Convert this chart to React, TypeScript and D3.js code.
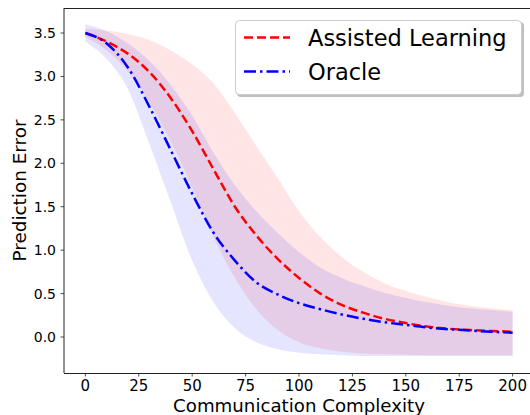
import { useEffect, useRef } from 'react'
import * as d3 from 'd3'

const W = 530
const H = 415
const MARGIN = { top: 8, right: -4, bottom: 42, left: 64 }

const steps = [0, 10, 20, 30, 40, 50, 60, 70, 80, 90, 100, 110, 120, 130, 140, 150, 160, 170, 180, 190, 200]

const assistedMean = [3.5, 3.4, 3.26, 3.05, 2.75, 2.37, 1.93, 1.5, 1.17, 0.9, 0.68, 0.5, 0.37, 0.28, 0.21, 0.16, 0.12, 0.095, 0.08, 0.07, 0.06]
const assistedUpper = [3.55, 3.53, 3.49, 3.42, 3.3, 3.14, 2.92, 2.58, 2.2, 1.83, 1.45, 1.15, 0.92, 0.75, 0.62, 0.53, 0.46, 0.4, 0.36, 0.33, 0.31]
const assistedLower = [3.45, 3.3, 3.05, 2.7, 2.25, 1.72, 1.15, 0.68, 0.32, 0.08, -0.06, -0.13, -0.17, -0.19, -0.2, -0.205, -0.21, -0.21, -0.21, -0.21, -0.21]

const oracleMean = [3.5, 3.38, 3.1, 2.65, 2.15, 1.65, 1.2, 0.88, 0.63, 0.49, 0.39, 0.32, 0.26, 0.21, 0.17, 0.14, 0.11, 0.09, 0.075, 0.06, 0.05]
const oracleUpper = [3.6, 3.52, 3.38, 3.18, 2.9, 2.55, 2.12, 1.75, 1.45, 1.2, 0.98, 0.8, 0.68, 0.59, 0.51, 0.45, 0.4, 0.36, 0.33, 0.31, 0.29]
const oracleLower = [3.4, 3.2, 2.85, 2.22, 1.55, 0.88, 0.4, 0.1, -0.06, -0.14, -0.18, -0.2, -0.21, -0.22, -0.22, -0.22, -0.22, -0.22, -0.22, -0.22, -0.22]

const xTicks = [0, 25, 50, 75, 100, 125, 150, 175, 200]
const yTicks = [0, 0.5, 1, 1.5, 2, 2.5, 3, 3.5]

const seriesNames = ['Assisted Learning', 'Oracle']

const FONT = 'DejaVu Sans, sans-serif'

export default function App() {
  const svgRef = useRef<SVGSVGElement>(null)

  useEffect(() => {
    if (!svgRef.current) return
    const svg = d3.select(svgRef.current)
    svg.selectAll('*').remove()

    const x0 = MARGIN.left
    const x1 = W - MARGIN.right
    const y0 = MARGIN.top
    const y1 = H - MARGIN.bottom

    const x = d3.scaleLinear().domain([-10, 210]).range([x0, x1])
    const y = d3.scaleLinear().domain([-0.4145, 3.788]).range([y1, y0])

    svg.append('defs').append('clipPath').attr('id', 'plot-clip')
      .append('rect').attr('x', x0).attr('y', y0).attr('width', x1 - x0).attr('height', y1 - y0)

    const plot = svg.append('g').attr('clip-path', 'url(#plot-clip)')

    const mkArea = (lo: number[], hi: number[]) =>
      d3.area<number>().x(d => x(d)).y0((_, i) => y(lo[i])).y1((_, i) => y(hi[i])).curve(d3.curveMonotoneX)
    const mkLine = (vals: number[]) =>
      d3.line<number>().x(d => x(d)).y((_, i) => y(vals[i])).curve(d3.curveMonotoneX)

    // bands
    plot.append('path').datum(steps).attr('fill', '#ff0000').attr('fill-opacity', 0.1)
      .attr('d', mkArea(assistedLower, assistedUpper))
    plot.append('path').datum(steps).attr('fill', '#0000ff').attr('fill-opacity', 0.1)
      .attr('d', mkArea(oracleLower, oracleUpper))

    // mean lines
    plot.append('path').datum(steps).attr('fill', 'none').attr('stroke', '#ff0000').attr('stroke-width', 2.5)
      .attr('stroke-dasharray', '9,4').attr('d', mkLine(assistedMean))
    plot.append('path').datum(steps).attr('fill', 'none').attr('stroke', '#0000ff').attr('stroke-width', 2.5)
      .attr('stroke-dasharray', '12,4,2.5,4').attr('d', mkLine(oracleMean))

    // spines
    const spines = svg.append('g').attr('stroke', '#222').attr('stroke-width', 1)
    spines.append('line').attr('x1', x0).attr('x2', x0).attr('y1', y0).attr('y2', y1)
    spines.append('line').attr('x1', x0).attr('x2', x1).attr('y1', y1 + 0.5).attr('y2', y1 + 0.5)
    spines.append('line').attr('x1', x0).attr('x2', x1).attr('y1', y0 + 0.5).attr('y2', y0 + 0.5)
    spines.append('line').attr('x1', x1).attr('x2', x1).attr('y1', y0).attr('y2', y1)

    // x axis
    const xa = svg.append('g')
    xTicks.forEach(t => {
      xa.append('line').attr('x1', x(t)).attr('x2', x(t)).attr('y1', y1).attr('y2', y1 + 3.5)
        .attr('stroke', '#222').attr('stroke-width', 0.8)
      xa.append('text').attr('x', x(t)).attr('y', y1 + 17.5).attr('text-anchor', 'middle')
        .attr('font-family', FONT).attr('font-size', 15).attr('fill', '#000').text(String(t))
    })

    // y axis
    const ya = svg.append('g')
    yTicks.forEach(t => {
      ya.append('line').attr('x1', x0 - 3.5).attr('x2', x0).attr('y1', y(t)).attr('y2', y(t))
        .attr('stroke', '#222').attr('stroke-width', 0.8)
      ya.append('text').attr('x', x0 - 8).attr('y', y(t)).attr('dy', '0.36em').attr('text-anchor', 'end')
        .attr('font-family', FONT).attr('font-size', 14).attr('fill', '#000').text(t.toFixed(1))
    })

    // axis labels
    svg.append('text').attr('x', (x0 + x1) / 2).attr('y', 411.5).attr('text-anchor', 'middle')
      .attr('font-family', FONT).attr('font-size', 18.2).attr('fill', '#000').text('Communication Complexity')
    svg.append('text').attr('transform', `translate(26,${(y0 + y1) / 2}) rotate(-90)`).attr('text-anchor', 'middle')
      .attr('font-family', FONT).attr('font-size', 18.4).attr('fill', '#000').text('Prediction Error')

    // legend
    const lg = svg.append('g')
    lg.append('rect').attr('x', 237).attr('y', 22).attr('width', 287).attr('height', 75).attr('rx', 4)
      .attr('fill', '#000').attr('fill-opacity', 0.25)
    lg.append('rect').attr('x', 235.5).attr('y', 20.5).attr('width', 286).attr('height', 74).attr('rx', 4)
      .attr('fill', '#fff').attr('stroke', '#cccccc').attr('stroke-width', 1)
    const entries = [
      { name: seriesNames[0], color: '#ff0000', dash: '9,4', ly: 37.5, ty: 46 },
      { name: seriesNames[1], color: '#0000ff', dash: '12,4,2.5,4', ly: 71.5, ty: 79.5 },
    ]
    entries.forEach(e => {
      lg.append('line').attr('x1', 244).attr('x2', 290).attr('y1', e.ly).attr('y2', e.ly)
        .attr('stroke', e.color).attr('stroke-width', 2.5).attr('stroke-dasharray', e.dash)
      lg.append('text').attr('x', 308).attr('y', e.ty).attr('font-family', FONT).attr('font-size', 22.5)
        .attr('fill', '#000').text(e.name)
    })
  }, [])

  return (
    <div style={{ position: 'absolute', left: 0, top: 0, width: W, height: H, background: '#fff' }}>
      <svg ref={svgRef} width={W} height={H} />
    </div>
  )
}
